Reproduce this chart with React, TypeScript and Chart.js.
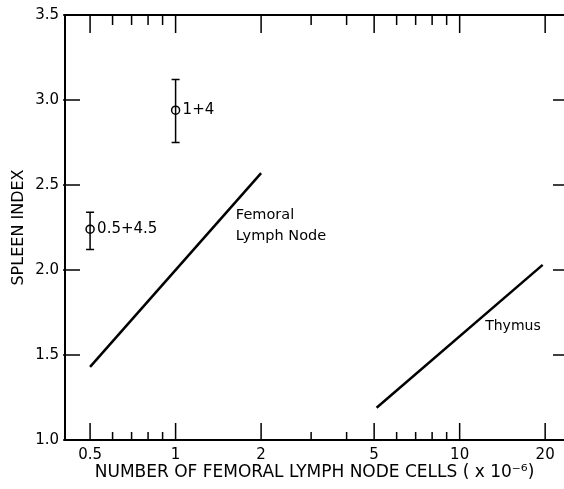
import { useEffect, useRef } from "react";
import { Chart, registerables } from "chart.js";

Chart.register(...registerables);

// ---- data ----
const xMajorTicks = [0.5, 1, 2, 5, 10, 20];
const xMinorTicks = [0.6, 0.7, 0.8, 0.9, 3, 4, 6, 7, 8, 9];
const yTicks = [1.0, 1.5, 2.0, 2.5, 3.0, 3.5];

const femoralX = [0.5, 2.0];
const femoralY = [1.43, 2.57];
const thymusX = [5.1, 19.6];
const thymusY = [1.19, 2.03];

const pointX = [0.5, 1];
const pointY = [2.24, 2.94];
const pointLow = [2.12, 2.75];
const pointHigh = [2.34, 3.12];
const pointLabels = ["0.5+4.5", "1+4"];

const xTitle = "NUMBER OF FEMORAL LYMPH NODE CELLS ( x 10\u207B\u2076)";
const yTitle = "SPLEEN INDEX";

const FONT = "'DejaVu Sans', sans-serif";

const decoPlugin = {
  id: "deco",
  afterDraw(chart: any) {
    const ctx = chart.ctx;
    const xs = chart.scales.x;
    const ys = chart.scales.y;
    const { left, right, top, bottom } = chart.chartArea;
    ctx.save();
    ctx.strokeStyle = "#000";
    ctx.fillStyle = "#000";
    // frame
    ctx.lineWidth = 2;
    ctx.beginPath();
    ctx.moveTo(left, top);
    ctx.lineTo(left, bottom);
    ctx.moveTo(left - 1, bottom);
    ctx.lineTo(right, bottom);
    ctx.moveTo(left - 1, top);
    ctx.lineTo(right, top);
    ctx.stroke();
    // ticks
    ctx.lineWidth = 1.5;
    ctx.beginPath();
    for (const v of xMajorTicks) {
      const px = xs.getPixelForValue(v);
      ctx.moveTo(px, bottom);
      ctx.lineTo(px, bottom - 17);
      ctx.moveTo(px, top);
      ctx.lineTo(px, top + 18);
    }
    for (const v of xMinorTicks) {
      const px = xs.getPixelForValue(v);
      ctx.moveTo(px, bottom);
      ctx.lineTo(px, bottom - 8);
      ctx.moveTo(px, top);
      ctx.lineTo(px, top + 10);
    }
    for (const v of yTicks) {
      const py = ys.getPixelForValue(v);
      ctx.moveTo(left - 2, py);
      ctx.lineTo(left + 15, py);
      ctx.moveTo(right - 11, py);
      ctx.lineTo(right, py);
    }
    ctx.stroke();
    // error bars
    ctx.lineWidth = 1.5;
    ctx.beginPath();
    for (let i = 0; i < pointX.length; i++) {
      const px = xs.getPixelForValue(pointX[i]);
      const pl = ys.getPixelForValue(pointLow[i]);
      const ph = ys.getPixelForValue(pointHigh[i]);
      ctx.moveTo(px, pl);
      ctx.lineTo(px, ph);
      ctx.moveTo(px - 4, pl);
      ctx.lineTo(px + 4, pl);
      ctx.moveTo(px - 4, ph);
      ctx.lineTo(px + 4, ph);
    }
    ctx.stroke();
    // point labels
    ctx.font = "15px " + FONT;
    ctx.textBaseline = "middle";
    ctx.textAlign = "left";
    for (let i = 0; i < pointX.length; i++) {
      const px = xs.getPixelForValue(pointX[i]);
      const py = ys.getPixelForValue(pointY[i]);
      ctx.fillText(pointLabels[i], px + 7, py);
    }
    // curve labels
    ctx.font = "14.5px " + FONT;
    const fx = xs.getPixelForValue(1.63);
    const fy = ys.getPixelForValue(2.32);
    ctx.fillText("Femoral", fx, fy);
    ctx.fillText("Lymph Node", fx, fy + 21);
    ctx.font = "14px " + FONT;
    ctx.fillText("Thymus", xs.getPixelForValue(12.3), ys.getPixelForValue(1.67));
    ctx.restore();
  },
};

export default function App() {
  const ref = useRef<HTMLCanvasElement>(null);
  useEffect(() => {
    document.body.style.margin = "0";
    const chart = new Chart(ref.current!, {
      type: "scatter",
      data: {
        datasets: [
          {
            type: "line",
            data: femoralX.map((x, i) => ({ x, y: femoralY[i] })),
            borderColor: "#000",
            borderWidth: 2.5,
            pointRadius: 0,
          },
          {
            type: "line",
            data: thymusX.map((x, i) => ({ x, y: thymusY[i] })),
            borderColor: "#000",
            borderWidth: 2.5,
            pointRadius: 0,
          },
          {
            type: "scatter",
            data: pointX.map((x, i) => ({ x, y: pointY[i] })),
            pointStyle: "circle",
            pointRadius: 4,
            backgroundColor: "#fff",
            borderColor: "#000",
            borderWidth: 1.5,
          },
        ],
      },
      options: {
        responsive: false,
        animation: false,
        events: [],
        layout: { autoPadding: false, padding: { top: 15, right: 0, left: 0, bottom: 0 } },
        plugins: { legend: { display: false }, tooltip: { enabled: false } },
        scales: {
          x: {
            type: "logarithmic",
            min: 0.408,
            max: 23.3,
            afterBuildTicks: (s: any) => {
              s.ticks = xMajorTicks.map((v) => ({ value: v }));
            },
            afterFit: (s: any) => {
              s.height = 49;
              s.paddingLeft = 0;
              s.paddingRight = 0;
            },
            grid: { display: false, drawTicks: false },
            border: { display: false },
            ticks: {
              color: "#000",
              font: { family: FONT, size: 15 },
              padding: 6,
              autoSkip: false,
              maxRotation: 0,
              callback: (v: any) => String(v),
            },
            title: {
              display: true,
              text: xTitle,
              color: "#000",
              font: { family: FONT, size: 17 },
              padding: { top: 0, bottom: 6 },
            },
          },
          y: {
            min: 1.0,
            max: 3.5,
            afterBuildTicks: (s: any) => {
              s.ticks = yTicks.map((v) => ({ value: v }));
            },
            afterFit: (s: any) => {
              s.width = 65;
              s.paddingTop = 0;
              s.paddingBottom = 0;
            },
            grid: { display: false, drawTicks: false },
            border: { display: false },
            ticks: {
              color: "#000",
              font: { family: FONT, size: 15 },
              padding: 6,
              callback: (v: any) => Number(v).toFixed(1),
            },
            title: {
              display: true,
              text: yTitle,
              color: "#000",
              font: { family: FONT, size: 16 },
              padding: { top: 9, bottom: 0 },
            },
          },
        },
      },
      plugins: [decoPlugin],
    } as any);
    return () => chart.destroy();
  }, []);
  return (
    <div style={{ position: "absolute", left: 0, top: 0, width: 564, height: 489, background: "#fff" }}>
      <canvas ref={ref} width={564} height={489} style={{ display: "block" }} />
    </div>
  );
}
